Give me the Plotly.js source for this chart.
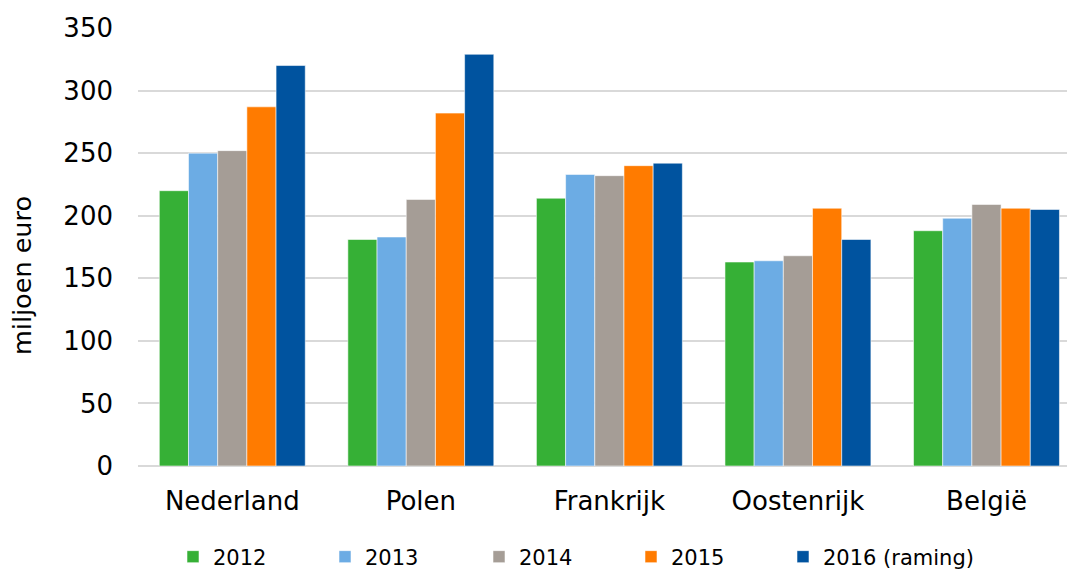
<!DOCTYPE html>
<html>
<head>
<meta charset="utf-8">
<script src="https://cdn.plot.ly/plotly-3.0.1.min.js"></script>
<style>html,body{margin:0;padding:0;background:#fff;}#chart{width:1067px;height:569px;}</style>
</head>
<body>
<div id="chart"></div>
<script>
const categories = ["Nederland", "Polen", "Frankrijk", "Oostenrijk", "België"];
const seriesNames = ["2012", "2013", "2014", "2015", "2016 (raming)"];
const v2012 = [220, 181, 214, 163, 188];
const v2013 = [250, 183, 233, 164, 198];
const v2014 = [252, 213, 232, 168, 209];
const v2015 = [287, 282, 240, 206, 206];
const v2016 = [320, 329, 242, 181, 205];
const yTicks = [0, 50, 100, 150, 200, 250, 300, 350];
const yTitle = "miljoen euro";

const values = [v2012, v2013, v2014, v2015, v2016];
const colors = ["#36B036", "#6CACE4", "#A59D96", "#FF7B00", "#00539F"];
const FONT = "DejaVu Sans, Verdana, sans-serif";
const legendX = [173, 325, 479, 631, 783];

const legendIds = ["legend", "legend2", "legend3", "legend4", "legend5"];

const traces = seriesNames.map((name, i) => ({
  type: "bar",
  name: name,
  x: categories,
  y: values[i],
  legend: legendIds[i],
  marker: { color: colors[i], line: { color: "rgba(255,255,255,0.55)", width: 1 } },
  hoverinfo: "skip"
}));

const layout = {
  width: 1067,
  height: 569,
  margin: { l: 138, r: 0, t: 28, b: 103 },
  paper_bgcolor: "#fff",
  plot_bgcolor: "#fff",
  font: { family: FONT, color: "#000", size: 26 },
  barmode: "group",
  bargap: 0.226,
  bargroupgap: 0,
  showlegend: true,
  xaxis: {
    type: "category",
    range: [-0.5, 4.427],
    showgrid: false,
    showline: false,
    ticks: "",
    ticklabelstandoff: 17,
    tickfont: { family: FONT, size: 26, color: "#000" },
    fixedrange: true
  },
  yaxis: {
    range: [0, 350],
    tickvals: yTicks,
    ticktext: yTicks.map(String),
    showgrid: true,
    gridcolor: "#D9D9D9",
    gridwidth: 2,
    zeroline: true,
    zerolinecolor: "#D9D9D9",
    zerolinewidth: 2,
    showline: false,
    ticks: "",
    ticklabelstandoff: 24,
    tickfont: { family: FONT, size: 26, color: "#000" },
    fixedrange: true
  },
  annotations: [{
    text: yTitle,
    textangle: -90,
    xref: "paper", yref: "paper",
    x: (22 - 138) / 929, y: 1 - (276 - 28) / 438,
    xanchor: "center", yanchor: "middle",
    showarrow: false,
    font: { family: FONT, size: 25.5, color: "#000" }
  }]
};

legendIds.forEach((id, i) => {
  layout[id] = {
    orientation: "h",
    xref: "container", yref: "container",
    x: legendX[i] / 1067, y: 1 - 557 / 569,
    xanchor: "left", yanchor: "middle",
    font: { family: FONT, size: 21, color: "#000" },
    bgcolor: "rgba(0,0,0,0)"
  };
});

Plotly.newPlot("chart", traces, layout, { staticPlot: true, displayModeBar: false });
</script>
</body>
</html>
